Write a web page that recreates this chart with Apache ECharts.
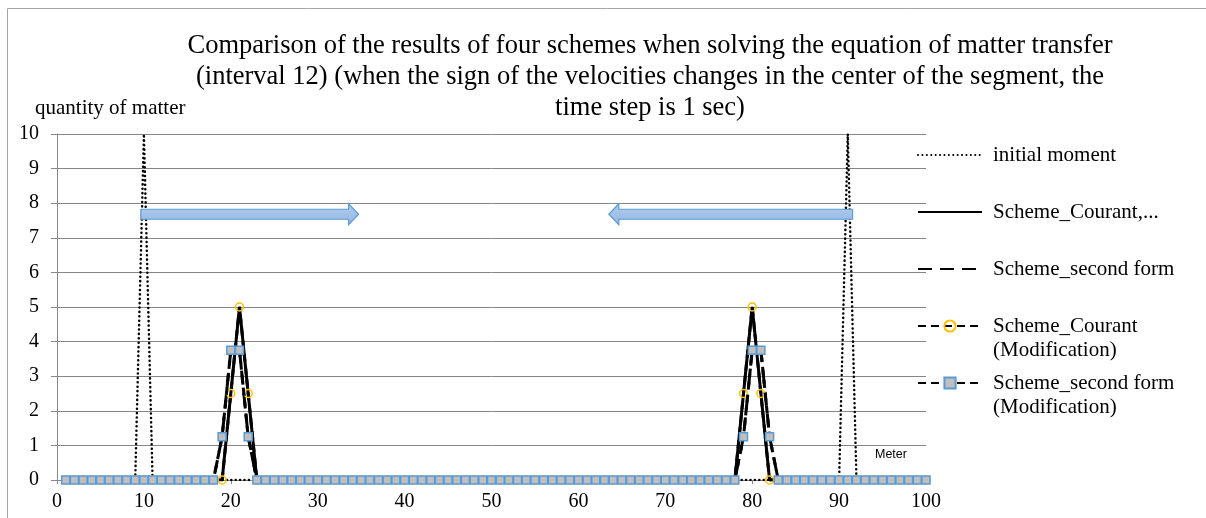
<!DOCTYPE html>
<html>
<head>
<meta charset="utf-8">
<script src="https://cdn.jsdelivr.net/npm/echarts@6/dist/echarts.min.js"></script>
<style>
html,body{margin:0;padding:0;background:#fff;}
#chart{width:1206px;height:518px;}
</style>
</head>
<body>
<div id="chart"></div>
<script>
// ---- Data (x = position in meters, y = quantity of matter) ----
const xValues = [
  1,2,3,4,5,6,7,8,9,10,
  11,12,13,14,15,16,17,18,19,20,
  21,22,23,24,25,26,27,28,29,30,
  31,32,33,34,35,36,37,38,39,40,
  41,42,43,44,45,46,47,48,49,50,
  51,52,53,54,55,56,57,58,59,60,
  61,62,63,64,65,66,67,68,69,70,
  71,72,73,74,75,76,77,78,79,80,
  81,82,83,84,85,86,87,88,89,90,
  91,92,93,94,95,96,97,98,99,100
];
const initialMoment = [
  0,0,0,0,0,0,0,0,0,10,
  0,0,0,0,0,0,0,0,0,0,
  0,0,0,0,0,0,0,0,0,0,
  0,0,0,0,0,0,0,0,0,0,
  0,0,0,0,0,0,0,0,0,0,
  0,0,0,0,0,0,0,0,0,0,
  0,0,0,0,0,0,0,0,0,0,
  0,0,0,0,0,0,0,0,0,0,
  0,0,0,0,0,0,0,0,0,0,
  10,0,0,0,0,0,0,0,0,0
];
const schemeCourant = [
  0,0,0,0,0,0,0,0,0,0,
  0,0,0,0,0,0,0,0,0,2.5,
  5,2.5,0,0,0,0,0,0,0,0,
  0,0,0,0,0,0,0,0,0,0,
  0,0,0,0,0,0,0,0,0,0,
  0,0,0,0,0,0,0,0,0,0,
  0,0,0,0,0,0,0,0,0,0,
  0,0,0,0,0,0,0,0,2.5,5,
  2.5,0,0,0,0,0,0,0,0,0,
  0,0,0,0,0,0,0,0,0,0
];
const schemeSecondForm = [
  0,0,0,0,0,0,0,0,0,0,
  0,0,0,0,0,0,0,0,1.25,3.75,
  3.75,1.25,0,0,0,0,0,0,0,0,
  0,0,0,0,0,0,0,0,0,0,
  0,0,0,0,0,0,0,0,0,0,
  0,0,0,0,0,0,0,0,0,0,
  0,0,0,0,0,0,0,0,0,0,
  0,0,0,0,0,0,0,0,1.25,3.75,
  3.75,1.25,0,0,0,0,0,0,0,0,
  0,0,0,0,0,0,0,0,0,0
];
const schemeCourantMod = [
  0,0,0,0,0,0,0,0,0,0,
  0,0,0,0,0,0,0,0,0,2.5,
  5,2.5,0,0,0,0,0,0,0,0,
  0,0,0,0,0,0,0,0,0,0,
  0,0,0,0,0,0,0,0,0,0,
  0,0,0,0,0,0,0,0,0,0,
  0,0,0,0,0,0,0,0,0,0,
  0,0,0,0,0,0,0,0,2.5,5,
  2.5,0,0,0,0,0,0,0,0,0,
  0,0,0,0,0,0,0,0,0,0
];
const schemeSecondFormMod = [
  0,0,0,0,0,0,0,0,0,0,
  0,0,0,0,0,0,0,0,1.25,3.75,
  3.75,1.25,0,0,0,0,0,0,0,0,
  0,0,0,0,0,0,0,0,0,0,
  0,0,0,0,0,0,0,0,0,0,
  0,0,0,0,0,0,0,0,0,0,
  0,0,0,0,0,0,0,0,0,0,
  0,0,0,0,0,0,0,0,1.25,3.75,
  3.75,1.25,0,0,0,0,0,0,0,0,
  0,0,0,0,0,0,0,0,0,0
];
const seriesNames = [
  'initial moment',
  'Scheme_Courant,...',
  'Scheme_second form',
  'Scheme_Courant\n(Modification)',
  'Scheme_second form\n(Modification)'
];
const xTicks = { min: 0, max: 100, interval: 10 };
const yTicks = { min: 0, max: 10, interval: 1 };
const titleText = 'Comparison of the results of four schemes when solving the equation of matter transfer\n(interval 12) (when the sign of the velocities changes in the center of the segment, the\ntime step is 1 sec)';
const yAxisName = 'quantity of matter';
const xAxisName = 'Meter';
// Direction arrows (annotation, in data units): [tailX, tipX, centerY]
const arrowRight = [9.65, 34.7, 7.68];
const arrowLeft = [91.55, 63.5, 7.68];

function pairs(ys) { return xValues.map((x, i) => [x, ys[i]]); }

const SERIF = '"Liberation Serif", "Times New Roman", serif';
const AXIS_GRAY = '#868686';

const chart = echarts.init(document.getElementById('chart'), null, { renderer: 'canvas' });

function legendAt(name, top, twoLine, hideSymbol) {
  const lg = {
    data: [name],
    orient: 'vertical',
    left: 917,
    top: top,
    padding: 0,
    itemWidth: 64,
    itemHeight: 14,
    selectedMode: false,
    textStyle: {
      fontFamily: SERIF, fontSize: 21, color: '#000', lineHeight: 24,
      padding: [0, 0, 0, 6]
    }
  };
  if (twoLine) lg.formatter = n => '\n' + n;
  if (hideSymbol) lg.itemStyle = { opacity: 0 };
  return lg;
}

const option = {
  animation: false,
  backgroundColor: '#fff',
  title: {
    text: titleText,
    left: 650,
    top: 31,
    padding: 0,
    textAlign: 'center',
    textStyle: { fontFamily: SERIF, fontSize: 26.5, fontWeight: 'normal', color: '#000', lineHeight: 31 }
  },
  legend: [
    legendAt(seriesNames[0], 143, false, true),
    legendAt(seriesNames[1], 200, false, true),
    legendAt(seriesNames[2], 257, false, true),
    legendAt(seriesNames[3], 290, true, false),
    legendAt(seriesNames[4], 347, true, false)
  ],
  grid: { left: 57, right: 280, top: 134, bottom: 38, containLabel: false },
  xAxis: {
    type: 'value',
    min: xTicks.min, max: xTicks.max, interval: xTicks.interval,
    axisLine: { show: true, onZero: false, lineStyle: { color: AXIS_GRAY, width: 1 } },
    axisTick: { show: true, length: 4, lineStyle: { color: AXIS_GRAY } },
    splitLine: { show: false },
    axisLabel: { fontFamily: SERIF, fontSize: 20, color: '#000', margin: 12 }
  },
  yAxis: {
    type: 'value',
    min: yTicks.min, max: yTicks.max, interval: yTicks.interval,
    axisLine: { show: true, lineStyle: { color: AXIS_GRAY, width: 1 } },
    axisTick: { show: true, length: 6, lineStyle: { color: AXIS_GRAY } },
    splitLine: { show: true, lineStyle: { color: AXIS_GRAY, width: 1 } },
    axisLabel: { fontFamily: SERIF, fontSize: 20, color: '#000', margin: 18 }
  },
  series: [
    {
      name: seriesNames[0], type: 'line', data: pairs(initialMoment),
      symbol: 'none', showSymbol: false, color: '#000',
      lineStyle: { color: '#000', width: 2.5, type: [0.1, 4.3], cap: 'round' },
      z: 2
    },
    {
      name: seriesNames[1], type: 'line', data: pairs(schemeCourant),
      symbol: 'none', showSymbol: false, color: '#000',
      lineStyle: { color: '#000', width: 3 },
      z: 3
    },
    {
      name: seriesNames[2], type: 'line', data: pairs(schemeSecondForm),
      symbol: 'none', showSymbol: false, color: '#000',
      lineStyle: { color: '#000', width: 3, type: [14, 8] },
      z: 4
    },
    {
      name: seriesNames[3], type: 'line', data: pairs(schemeCourantMod),
      symbol: 'circle', symbolSize: 8, showSymbol: true, color: '#000',
      lineStyle: { color: '#000', width: 3, type: [8, 5] },
      itemStyle: { color: 'rgba(255,255,255,0)', borderColor: '#FFC000', borderWidth: 1.5 },
      z: 5
    },
    {
      name: seriesNames[4], type: 'line', data: pairs(schemeSecondFormMod),
      symbol: 'rect', symbolSize: 8, showSymbol: true, color: '#000',
      lineStyle: { color: '#000', width: 3, type: [8, 5] },
      itemStyle: { color: '#BFBFBF', borderColor: '#5B9BD5', borderWidth: 1.5 },
      z: 6
    }
  ]
};

chart.setOption(option);

function arrowPoints(spec) {
  const tail = chart.convertToPixel({ gridIndex: 0 }, [spec[0], spec[2]]);
  const tip = chart.convertToPixel({ gridIndex: 0 }, [spec[1], spec[2]]);
  const dir = tip[0] > tail[0] ? 1 : -1;
  const cy = tail[1];
  const bodyH = 5, headH = 10.5, headL = 10;
  const hb = tip[0] - dir * headL;
  return [
    [tail[0], cy - bodyH], [hb, cy - bodyH], [hb, cy - headH], [tip[0], cy],
    [hb, cy + headH], [hb, cy + bodyH], [tail[0], cy + bodyH]
  ];
}
const arrowStyle = {
  fill: new echarts.graphic.LinearGradient(0, 0, 0, 1, [
    { offset: 0, color: '#B3CDEE' }, { offset: 1, color: '#93B6E2' }
  ]),
  stroke: '#5B9BD5', lineWidth: 1.2
};

chart.setOption({
  graphic: [
    { type: 'rect', shape: { x: 7.5, y: 8.5, width: 1300, height: 600 }, style: { fill: 'none', stroke: '#A6A6A6', lineWidth: 1 }, z: -10, silent: true },
    { type: 'polygon', shape: { points: arrowPoints(arrowRight) }, style: arrowStyle, z: 10 },
    { type: 'polygon', shape: { points: arrowPoints(arrowLeft) }, style: arrowStyle, z: 10 },
    { type: 'text', left: 35, top: 98, style: { text: yAxisName, font: '21px ' + SERIF, fill: '#000' } },
    { type: 'text', left: 875, top: 448, style: { text: xAxisName, font: '12.5px "Liberation Sans", Arial, sans-serif', fill: '#000' } }
  ]
});
</script>
</body>
</html>
